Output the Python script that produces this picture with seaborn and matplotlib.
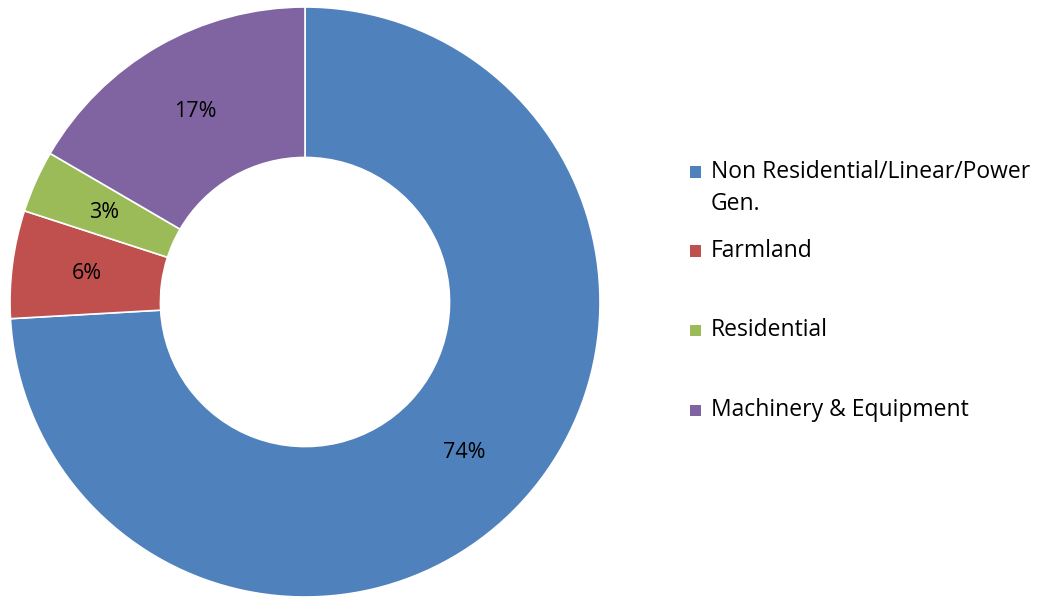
import matplotlib
matplotlib.use("Agg")
import matplotlib.pyplot as plt
import matplotlib.patches as mpatches
import seaborn as sns

# data
categorias = ["Non Residential/Linear/Power\nGen.", "Farmland", "Residential", "Machinery & Equipment"]
valores = [74.1, 5.9, 3.4, 16.6]
cores = ["#4F81BD", "#C0504D", "#9BBB59", "#8064A2"]

sns.set_theme(style="white")
plt.rcParams["font.family"] = ["Open Sans", "DejaVu Sans"]

W, H = 1046, 597
fig = plt.figure(figsize=(W / 100, H / 100), dpi=100)
# donut centrado em (305, 302) px, raio ~295 px
cx, cy, r = 305, 302, 295
ax = fig.add_axes([(cx - r) / W, (H - cy - r) / H, 2 * r / W, 2 * r / H])

wedges, textos, pcts = ax.pie(
    valores, colors=cores, startangle=90, counterclock=False,
    autopct=lambda p: f"{p:.0f}%", pctdistance=0.745,
    wedgeprops=dict(width=0.51, edgecolor="white", linewidth=1.2),
    textprops=dict(fontsize=15.5, color="black"),
)
ax.set_xlim(-1, 1)
ax.set_ylim(-1, 1)
ax.set_aspect("auto")
ax.axis("off")

# legenda desenhada à mão (marcador alinhado com a primeira linha)
linhas_y = [172, 251, 330, 410]
for cor, nome, ly in zip(cores, categorias, linhas_y):
    fig.patches.append(mpatches.Rectangle(((690) / W, (H - ly - 5.5) / H), 11 / W, 11 / H,
                                          transform=fig.transFigure, facecolor=cor,
                                          edgecolor="none"))
    fig.text(711 / W, (H - ly) / H, nome.split("\n")[0], fontsize=16.5,
             color="black", va="center", ha="left")
    if "\n" in nome:
        fig.text(711 / W, (H - ly - 32) / H, nome.split("\n")[1], fontsize=16.5,
                 color="black", va="center", ha="left")

fig.savefig("out.png", dpi=100)
